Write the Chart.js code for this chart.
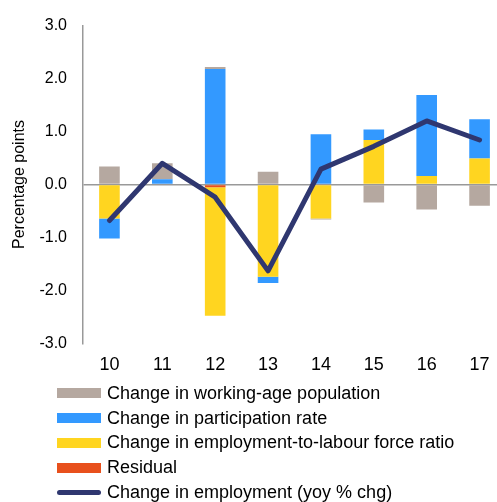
<!DOCTYPE html>
<html>
<head>
<meta charset="utf-8">
<script src="https://cdn.jsdelivr.net/npm/chart.js@4/dist/chart.umd.min.js"></script>
<style>
  html, body { margin: 0; padding: 0; background: #fff; overflow: hidden; }
  #wrap { position: relative; width: 506px; height: 502px; }
  #legend { position: absolute; left: 57px; top: 381px; font: 18px "Liberation Sans", Arial, sans-serif; color: #000; }
  .item { display: flex; align-items: center; height: 24.75px; white-space: nowrap; }
  .swatch { width: 44px; height: 10px; margin-right: 6px; }
  .swatch.line { height: 5px; border-radius: 3px; }
</style>
</head>
<body>
<div id="wrap">
  <canvas id="chart" width="506" height="502"></canvas>
  <div id="legend"></div>
</div>
<script>
const years = ['10', '11', '12', '13', '14', '15', '16', '17']
const workingAgePop = [0.34, 0.30, 0.04, 0.24, -0.02, -0.34, -0.47, -0.40]
const participation = [-0.38, 0.10, 2.18, -0.12, 0.95, 0.20, 1.53, 0.74]
const empToLabour = [-0.64, 0, -2.43, -1.74, -0.64, 0.84, 0.16, 0.49]
const residual = [0, 0, -0.05, 0, 0, 0, 0, 0]
const employment = [-0.68, 0.40, -0.24, -1.63, 0.29, 0.72, 1.20, 0.84]

const font = {family: '"Liberation Sans", Arial, sans-serif', size: 16}
const xFont = {family: '"Liberation Sans", Arial, sans-serif', size: 18}

const bar = (label, data, color) => ({
  type: 'bar', label: label, data: data, backgroundColor: color,
  stack: 'bars', order: 1, categoryPercentage: 1, barPercentage: 0.39
})

// stacking order matters: residual sits next to zero, grey goes outermost
const datasets = [
  bar('Residual', residual, '#E8501C'),
  bar('Change in employment-to-labour force ratio', empToLabour, '#FFD520'),
  bar('Change in participation rate', participation, '#3399FF'),
  bar('Change in working-age population', workingAgePop, '#B5A8A0'),
  {
    type: 'line', label: 'Change in employment (yoy % chg)', data: employment,
    borderColor: '#2F3770', borderWidth: 5, pointRadius: 0, stack: 'line', order: 0,
    borderCapStyle: 'round', borderJoinStyle: 'round', tension: 0
  }
]

new Chart(document.getElementById('chart'), {
  data: {labels: years, datasets: datasets},
  options: {
    responsive: false,
    animation: false,
    layout: {padding: {left: 10, top: 25, bottom: 123, right: 0}},
    plugins: {legend: {display: false}, tooltip: {enabled: false}},
    scales: {
      x: {
        stacked: true,
        grid: {display: false},
        border: {display: false},
        ticks: {font: xFont, color: '#000', padding: 3}
      },
      y: {
        stacked: true,
        min: -3, max: 3,
        afterFit: (scale) => { scale.width = 73 },
        border: {color: '#999', width: 1.5},
        grid: {
          drawTicks: false,
          lineWidth: 1.5,
          color: (ctx) => ctx.tick && ctx.tick.value === 0 ? '#999' : 'rgba(0,0,0,0)'
        },
        ticks: {
          stepSize: 1, font: font, color: '#000', padding: 16,
          callback: (v) => v.toFixed(1)
        },
        title: {display: true, text: 'Percentage points', font: font, color: '#000', padding: {top: 0, bottom: 0}}
      }
    }
  }
})

// legend in the reference's order, one entry per row
const legendOrder = [3, 2, 1, 0, 4]
const legend = document.getElementById('legend')
legendOrder.forEach((i) => {
  const ds = datasets[i]
  const row = document.createElement('div')
  row.className = 'item'
  const sw = document.createElement('span')
  sw.className = ds.type === 'line' ? 'swatch line' : 'swatch'
  sw.style.background = ds.type === 'line' ? ds.borderColor : ds.backgroundColor
  row.appendChild(sw)
  row.appendChild(document.createTextNode(ds.label))
  legend.appendChild(row)
})
</script>
</body>
</html>
